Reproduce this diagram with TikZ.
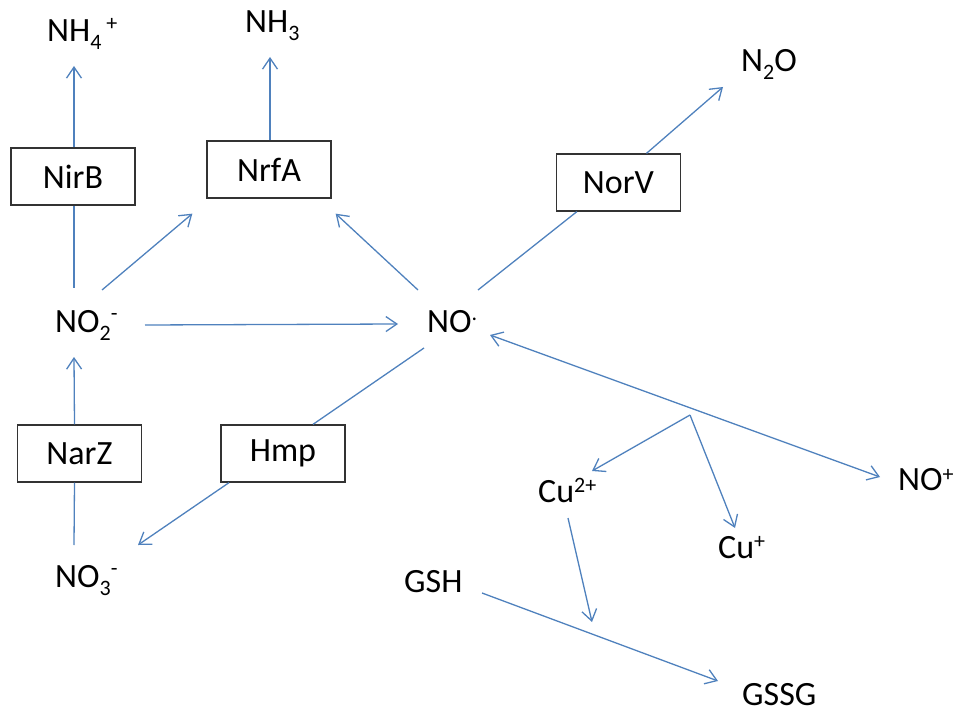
\documentclass[tikz,border=0pt]{standalone}
\usepackage{fontspec}
\setmainfont{Carlito}
\usetikzlibrary{arrows.meta}
\definecolor{linkblue}{RGB}{79,129,189}
\newcommand\mysub[1]{\raisebox{-8pt}{\fontsize{22}{22}\selectfont #1}}
\newcommand\mysup[2][10pt]{\raisebox{#1}{\fontsize{22}{22}\selectfont #2}}
\begin{document}
\begin{tikzpicture}[x=1pt,y=-1pt,
  lbl/.style={anchor=base west, inner sep=0pt, font=\fontsize{34}{40}\selectfont},
  enz/.style={draw=black!80, line width=1.3pt, minimum width=124pt, minimum height=57pt, inner sep=0pt, font=\fontsize{34}{40}\selectfont},
  con/.style={draw=linkblue, line width=1.3pt},
  arr/.style={con, -{Straight Barb[length=11pt,width=15pt]}},
  darr/.style={con, {Straight Barb[length=11pt,width=15pt]}-{Straight Barb[length=11pt,width=15pt]}}]
\useasboundingbox (0,0) rectangle (953,711);
% species
\node[lbl] (nh4) at (47,42) {NH\mysub{4}\hspace{5pt}\mysup[11pt]{+}};
\node[lbl] (nh3) at (245,33) {NH\mysub{3}};
\node[lbl] (no2) at (55,332) {NO\mysub{2}\mysup[12pt]{-}};
\node[lbl] (no) at (427,332) {NO\mysup[12pt]{.}};
\node[lbl] (no3) at (55,587) {NO\mysub{3}\mysup[12pt]{-}};
\node[lbl] (gsh) at (404,592) {GSH};
\node[lbl] (cu2) at (538,502) {Cu\mysup[10pt]{2+}};
\node[lbl] (cup) at (718,558) {Cu\mysup[10pt]{+}};
\node[lbl] (nop) at (898,490) {NO\mysup[9pt]{+}};
\node[lbl] (gssg) at (742,705) {GSSG};
\node[lbl] (n2o) at (741,72) {N\mysub{2}O};
% enzymes
\node[enz] (nirb) at (73,176.5) {NirB};
\node[enz] (nrfa) at (269,169.5) {NrfA};
\node[enz] (norv) at (618.5,182.5) {NorV};
\node[enz] (narz) at (79.5,453.5) {NarZ};
\node[enz] (hmp) at (283,453.5) {Hmp};
% branch points
\coordinate (br) at (690,415);
\coordinate (rxn) at (592,622);
% connectors
\draw[arr] ([shift={(1,0)}]nirb.north) -- ([shift={(27,24)}]nh4.base west);
\draw[arr] ([shift={(1,0)}]nrfa.north) -- ([shift={(25,24)}]nh3.base west);
\draw[con] ([shift={(19,-44)}]no2.base west) -- ([shift={(1,0)}]nirb.south);
\draw[arr] ([shift={(47,-42)}]no2.base west) -- ([shift={(-14,15)}]nrfa.south west);
\draw[arr] ([shift={(-9,-42)}]no.base west) -- ([shift={(4,15)}]nrfa.south east);
\draw[arr] ([shift={(90,-7)}]no2.base west) -- ([shift={(-29,-8)}]no.base west);
\draw[con] ([shift={(51,-42)}]no.base west) -- ([shift={(21,0)}]norv.south west);
\draw[arr] ([shift={(28,0)}]norv.north) -- ([shift={(-18,15)}]n2o.base west);
\draw[con] ([shift={(-3,16)}]no.base west) -- ([shift={(30,0)}]hmp.north);
\draw[arr] ([shift={(-54,0)}]hmp.south) -- ([shift={(83,-42)}]no3.base west);
\draw[con] ([shift={(19,-42)}]no3.base west) -- ([shift={(-5,0)}]narz.south);
\draw[arr] ([shift={(-5,0)}]narz.north) -- ([shift={(19,25)}]no2.base west);
\draw[darr] ([shift={(63,3)}]no.base west) -- ([shift={(-18,-13)}]nop.base west);
\draw[arr] (br) -- ([shift={(54,-31)}]cu2.base west);
\draw[arr] (br) -- ([shift={(17,-30)}]cup.base west);
\draw[arr] ([shift={(30,16)}]cu2.base west) -- (rxn);
\draw[arr] ([shift={(78,1)}]gsh.base west) -- ([shift={(-24,-24)}]gssg.base west);
\end{tikzpicture}
\end{document}
